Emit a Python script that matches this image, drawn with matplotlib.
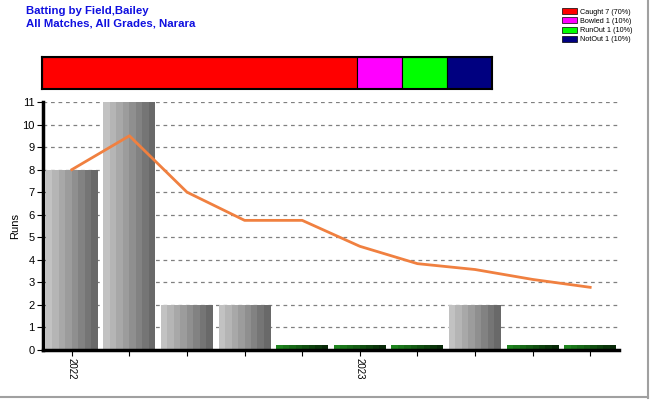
import matplotlib
matplotlib.use("Agg")
import matplotlib.pyplot as plt
from matplotlib.patches import Patch
from matplotlib.lines import Line2D
import numpy as np

# innings, in order
runs      = [8, 11, 2, 2, 0, 0, 0, 2, 0, 0]
running_avg = [8.0, 9.5, 7.0, 5.75, 5.75, 4.6, 3.83, 3.57, 3.13, 2.78]
tick_labels = ["2022", "", "", "", "", "2023", "", "", "", ""]

# dismissals
dismissals = ["Caught", "Bowled", "RunOut", "NotOut"]
dis_counts = [7, 1, 1, 1]
dis_colors = ["#ff0000", "#ff00ff", "#00ff00", "#000080"]

TITLE = "Batting by Field,Bailey\nAll Matches, All Grades, Narara"

fig = plt.figure(figsize=(6.5, 4.0), dpi=100)
fig.patch.set_facecolor("white")

# title
fig.text(26 / 650, 1 - 6 / 400, TITLE, color="#1010e0", fontsize=8.2,
         fontweight="bold", va="top", ha="left", family="Liberation Sans",
         linespacing=1.35)

# dismissal strip
ax_top = fig.add_axes([42 / 650, 1 - 89 / 400, 450 / 650, 32 / 400])
left = 0
total = sum(dis_counts)
for n, c in zip(dis_counts, dis_colors):
    ax_top.barh(0, n / total, left=left, height=1.0, color=c,
                edgecolor="black", linewidth=0.8)
    left += n / total
ax_top.set_xlim(0, 1)
ax_top.set_ylim(-0.5, 0.5)
ax_top.set_xticks([]); ax_top.set_yticks([])
for s in ax_top.spines.values():
    s.set_linewidth(1.5)

# legend top right
handles = [Patch(facecolor=c, edgecolor="black", linewidth=0.5)
           for c in dis_colors]
labels = [f"{d} {n} ({100 * n / total:.0f}%)" for d, n in zip(dismissals, dis_counts)]
fig.legend(handles, labels, loc="upper left", bbox_to_anchor=(557 / 650, 1 - 3 / 400),
           frameon=False, handlelength=2.0, handleheight=0.9,
           labelspacing=0.25, handletextpad=0.5, borderpad=0.2,
           prop={"family": "Liberation Sans", "size": 5.2})

# main chart
ax = fig.add_axes([43 / 650, 1 - 350 / 400, 576 / 650, 248 / 400])
x = np.arange(len(runs))
bw = 0.9
n_str = 8
grays = np.linspace(0.76, 0.41, n_str)
greens = [(0.12 - 0.09 * t, 0.52 - 0.36 * t, 0.12 - 0.09 * t) for t in np.linspace(0, 1, n_str)]
sw = bw / n_str
for xi, r in zip(x, runs):
    for k in range(n_str):
        xs = xi - bw / 2 + sw * (k + 0.5)
        if r > 0:
            ax.bar(xs, r, width=sw * 1.02, color=(grays[k],) * 3, linewidth=0, zorder=2)
        else:
            ax.bar(xs, 0.2, width=sw * 1.02, color=greens[k], linewidth=0, zorder=2)

ax.plot(x, running_avg, color="#f08040", linewidth=2.0, zorder=3)

ax.set_xlim(-0.5, 9.5)
ax.set_ylim(0, 11)
ax.set_yticks(range(0, 12))
ax.set_xticks(x)
ax.set_xticklabels(tick_labels, rotation=-90, fontsize=7, family="Liberation Sans")
ax.tick_params(axis="y", labelsize=8, length=4, width=0.8, pad=2)
ax.tick_params(axis="x", length=4, width=0.8, pad=2)
for lbl in ax.get_yticklabels():
    lbl.set_family("Liberation Sans")
ax.yaxis.grid(True, linestyle=(0, (3, 3)), color="#808080", linewidth=0.9, zorder=0)
ax.set_axisbelow(True)
ax.spines["top"].set_visible(False)
ax.spines["right"].set_visible(False)
ax.spines["left"].set_linewidth(2.5)
ax.spines["bottom"].set_linewidth(2.5)
ax.set_ylabel("Runs", fontsize=8, family="Liberation Sans")
ax.yaxis.set_label_coords((20 - 43) / 576, 0.5)

# outer frame (right and bottom edge)
fig.add_artist(Line2D([648 / 650, 648 / 650], [2 / 400, 1], color="#a0a0a0", linewidth=1.5))
fig.add_artist(Line2D([0, 648 / 650], [3 / 400, 3 / 400], color="#a0a0a0", linewidth=1.5))

fig.savefig("out.png", dpi=100)
